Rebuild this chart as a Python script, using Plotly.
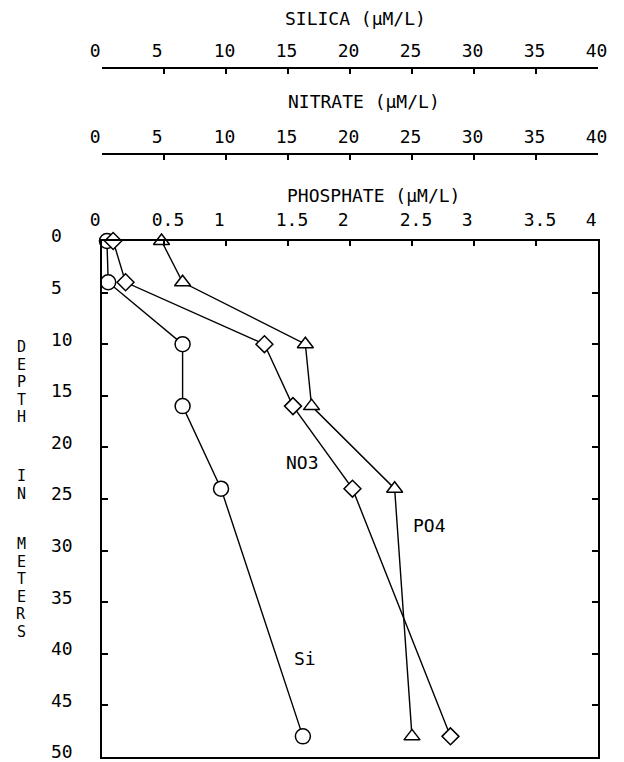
import plotly.graph_objects as go

# ---------------- data ----------------
depth_m = [0, 4, 10, 16, 24, 48]
silica_uM = [0.4, 0.5, 6.5, 6.5, 9.6, 16.2]
nitrate_uM = [0.9, 1.9, 13.1, 15.4, 20.2, 28.1]
phosphate_uM = [0.48, 0.65, 1.64, 1.69, 2.36, 2.50]

si_no3_ticks = [0, 5, 10, 15, 20, 25, 30, 35, 40]
si_no3_ticktext = ["0", "5", "10", "15", "20", "25", "30", "35", "40"]
po4_ticks = [0, 0.5, 1, 1.5, 2, 2.5, 3, 3.5, 4]
po4_ticktext = ["0", "0.5", "1", "1.5", "2", "2.5", "3", "3.5", "4"]
depth_ticks = [0, 5, 10, 15, 20, 25, 30, 35, 40, 45, 50]
depth_ticktext = ["0", "5", "10", "15", "20", "25", "30", "35", "40", "45", "50"]

series_labels = ["Si", "NO3", "PO4"]
y_title_words = ["DEPTH", "IN", "METERS"]

# ---------------- layout helpers ----------------
W, H = 624, 762
ML, MR, MT, MB = 102, 26, 0, 5
PW, PH = W - ML - MR, H - MT - MB
FONT = "DejaVu Sans Mono"
FS = 18
NB = "\u00a0"


def px_x(px):
    return (px - ML) / PW


def px_y(py):
    return (PH - (py - MT)) / PH


def pad(t, n):
    return t + NB * (n - len(t))


fig = go.Figure()

marker_line = dict(color="black", width=1.5)
fig.add_trace(go.Scatter(
    x=silica_uM, y=depth_m, xaxis="x2", yaxis="y", mode="lines+markers",
    line=dict(color="black", width=1.4), cliponaxis=False,
    marker=dict(symbol="circle", size=15, color="white", line=marker_line),
    name=series_labels[0], showlegend=False))
fig.add_trace(go.Scatter(
    x=nitrate_uM, y=depth_m, xaxis="x3", yaxis="y", mode="lines+markers",
    line=dict(color="black", width=1.4), cliponaxis=False,
    marker=dict(symbol="diamond", size=13, color="white", line=marker_line),
    name=series_labels[1], showlegend=False))
fig.add_trace(go.Scatter(
    x=phosphate_uM, y=depth_m, xaxis="x", yaxis="y", mode="lines+markers",
    line=dict(color="black", width=1.4), cliponaxis=False,
    marker=dict(symbol="triangle-up", size=14, color="white", line=marker_line),
    name=series_labels[2], showlegend=False))

tickfont = dict(family=FONT, size=FS, color="black")
ydom_top = px_y(241)

common_x = dict(showgrid=False, zeroline=False, showline=True, linecolor="black",
                linewidth=1.5, ticks="inside", ticklen=5, tickwidth=1.5,
                tickcolor="black", tickfont=tickfont, tickmode="array",
                ticklabelshift=4, ticklabeloverflow="allow", automargin=False)

fig.update_layout(
    width=W, height=H,
    margin=dict(l=ML, r=MR, t=MT, b=MB, autoexpand=False),
    paper_bgcolor="white", plot_bgcolor="white",
    font=dict(family=FONT, size=FS, color="black"),
    xaxis=dict(range=[0, 4], side="top", anchor="y", mirror=True,
               tickvals=po4_ticks, ticktext=[pad(t, 3) for t in po4_ticktext],
               ticklabelstandoff=6, **common_x),
    xaxis2=dict(range=[0, 40], side="top", anchor="free", overlaying="x",
                position=px_y(68),
                tickvals=si_no3_ticks, ticktext=[pad(t, 3) for t in si_no3_ticktext],
                ticklabelstandoff=3, **common_x),
    xaxis3=dict(range=[0, 40], side="top", anchor="free", overlaying="x",
                position=px_y(154),
                tickvals=si_no3_ticks, ticktext=[pad(t, 3) for t in si_no3_ticktext],
                ticklabelstandoff=3, **common_x),
    yaxis=dict(range=[50, 0], domain=[0, ydom_top], showgrid=False, zeroline=False,
               showline=True, linecolor="black", linewidth=1.5, mirror="ticks",
               ticks="inside", ticklen=6, tickwidth=1.5, tickcolor="black",
               tickmode="array", tickvals=depth_ticks,
               ticktext=[pad(t, 2) for t in depth_ticktext],
               tickfont=tickfont, ticklabelstandoff=24, ticklabelshift=5,
               ticklabeloverflow="allow", automargin=False),
)

ann = []
axis_titles = [("SILICA (µM/L)", 355, 18), ("NITRATE (µM/L)", 364, 101),
               ("PHOSPHATE (µM/L)", 373, 196)]
for text, cx, cy in axis_titles:
    ann.append(dict(text=text, x=px_x(cx), y=px_y(cy), xref="paper", yref="paper",
                    xanchor="center", yanchor="middle", showarrow=False,
                    font=dict(family=FONT, size=FS, color="black")))

for text, cx, cy in [(series_labels[1], 302, 462), (series_labels[2], 429, 525),
                     (series_labels[0], 305, 658)]:
    ann.append(dict(text=text, x=px_x(cx), y=px_y(cy), xref="paper", yref="paper",
                    xanchor="center", yanchor="middle", showarrow=False,
                    font=dict(family=FONT, size=FS, color="black")))

# vertical stacked-letter y title, one letter per text so they can't collide
LFS = 15
PITCH = 17.5
word_centers = [382, 485, 588]
for word, cy in zip(y_title_words, word_centers):
    n = len(word)
    for i, ch in enumerate(word):
        ly = cy + (i - (n - 1) / 2) * PITCH
        ann.append(dict(text=ch, x=px_x(21), y=px_y(ly), xref="paper", yref="paper",
                        xanchor="center", yanchor="middle", showarrow=False,
                        font=dict(family=FONT, size=LFS, color="black")))

fig.update_layout(annotations=ann)

fig.write_html("out.html")
